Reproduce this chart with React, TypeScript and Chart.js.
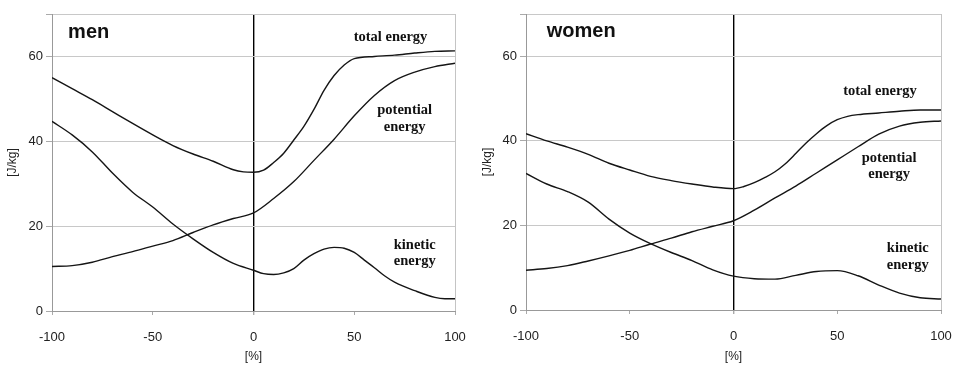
import React, { useEffect, useRef } from 'react';
import { Chart, registerables } from 'chart.js';

Chart.register(...registerables);

// ---------- data: men ----------
const MEN_TOTAL_X = [-100, -90, -80, -70, -60, -50, -40, -30, -20, -10, -5, 0, 5, 10, 15, 20, 25, 30, 35, 40, 45, 50, 60, 70, 80, 90, 100];
const MEN_TOTAL_Y = [55, 52.4, 49.8, 47, 44.2, 41.5, 39, 37, 35.3, 33.3, 32.8, 32.7, 33.2, 35, 37.2, 40.3, 43.5, 47.5, 52, 55.5, 58, 59.5, 60, 60.3, 60.8, 61.2, 61.3];

const MEN_POT_X = [-100, -90, -80, -70, -60, -50, -40, -30, -20, -10, 0, 10, 20, 30, 40, 50, 60, 70, 80, 90, 100];
const MEN_POT_Y = [10.5, 10.7, 11.5, 12.8, 14, 15.3, 16.6, 18.5, 20.3, 21.8, 23.1, 26.5, 30.5, 35.5, 40.5, 46, 50.8, 54.3, 56.3, 57.6, 58.4];

const MEN_KIN_X = [-100, -90, -80, -70, -60, -50, -40, -30, -20, -10, 0, 5, 10, 15, 20, 25, 30, 35, 40, 45, 50, 55, 60, 65, 70, 80, 90, 95, 100];
const MEN_KIN_Y = [44.7, 41.5, 37.5, 32.5, 28, 24.5, 20.5, 17, 13.8, 11.2, 9.6, 8.8, 8.6, 9, 10, 12, 13.5, 14.6, 15, 14.8, 13.8, 12, 10.2, 8.3, 6.8, 4.8, 3.2, 2.9, 2.9];

// ---------- data: women ----------
const WOMEN_TOTAL_X = [-100, -90, -80, -70, -60, -50, -40, -30, -20, -10, 0, 5, 10, 15, 20, 25, 30, 35, 40, 45, 50, 55, 60, 70, 80, 90, 100];
const WOMEN_TOTAL_Y = [41.7, 40, 38.5, 36.8, 34.7, 33.1, 31.6, 30.6, 29.8, 29.1, 28.7, 29.2, 30.1, 31.3, 32.7, 34.6, 37, 39.5, 41.7, 43.6, 45, 45.8, 46.2, 46.6, 47, 47.3, 47.3];

const WOMEN_POT_X = [-100, -90, -80, -70, -60, -50, -40, -30, -20, -10, 0, 10, 20, 30, 40, 50, 60, 70, 80, 90, 100];
const WOMEN_POT_Y = [9.4, 9.8, 10.5, 11.6, 12.8, 14.1, 15.6, 17, 18.5, 19.8, 21.1, 23.6, 26.5, 29.3, 32.4, 35.5, 38.6, 41.6, 43.5, 44.4, 44.7];

const WOMEN_KIN_X = [-100, -90, -80, -70, -60, -50, -40, -30, -20, -10, 0, 10, 20, 30, 40, 50, 60, 70, 80, 90, 100];
const WOMEN_KIN_Y = [32.3, 29.8, 28, 25.5, 21.5, 18.2, 15.7, 13.6, 11.7, 9.5, 8.0, 7.4, 7.3, 8.2, 9.1, 9.3, 8.1, 5.9, 4.0, 2.9, 2.6];

// ---------- axes ----------
const X_MIN = -100;
const X_MAX = 100;
const X_STEP = 50;
const Y_MIN = 0;
const Y_MAX = 70;
const Y_STEP = 20;
const X_TITLE = '[%]';
const Y_TITLE = '[J/kg]';

type Label = { lines: string[]; x: number; y: number };

const MEN_LABELS: Label[] = [
  { lines: ['total energy'], x: 68, y: 64.5 },
  { lines: ['potential', 'energy'], x: 75, y: 47.3 },
  { lines: ['kinetic', 'energy'], x: 80, y: 15.5 },
];
const WOMEN_LABELS: Label[] = [
  { lines: ['total energy'], x: 70.6, y: 51.8 },
  { lines: ['potential', 'energy'], x: 75, y: 36 },
  { lines: ['kinetic', 'energy'], x: 84, y: 14.5 },
];

const SANS = '"Liberation Sans", Arial, sans-serif';
const SERIF = '"Liberation Serif", "Times New Roman", serif';

function toPoints(xs: number[], ys: number[]) {
  return xs.map((x, i) => ({ x, y: ys[i] }));
}

type PanelProps = {
  title: string;
  series: { label: string; xs: number[]; ys: number[] }[];
  labels: Label[];
  width: number;
  height: number;
  yAxisWidth: number;
  xAxisHeight: number;
  padTop: number;
  padRight: number;
  yTitlePad: number;
  titleAt: { x: number; y: number };
};

function Panel(props: PanelProps) {
  const ref = useRef<HTMLCanvasElement | null>(null);
  useEffect(() => {
    const canvas = ref.current;
    if (!canvas) return;
    const textPlugin = {
      id: 'texts',
      afterDraw(chart: any) {
        const ctx = chart.ctx;
        const xs = chart.scales.x;
        const ys = chart.scales.y;
        ctx.save();
        ctx.fillStyle = '#111';
        ctx.textBaseline = 'middle';
        ctx.textAlign = 'left';
        ctx.font = `bold 20px ${SANS}`;
        ctx.fillText(props.title, xs.getPixelForValue(props.titleAt.x), ys.getPixelForValue(props.titleAt.y));
        ctx.font = `bold 14.5px ${SERIF}`;
        ctx.textAlign = 'center';
        props.labels.forEach((l) => {
          const px = xs.getPixelForValue(l.x);
          const py = ys.getPixelForValue(l.y);
          l.lines.forEach((t, i) => ctx.fillText(t, px, py + i * 16.5));
        });
        ctx.restore();
      },
    };
    const chart = new Chart(canvas, {
      type: 'line',
      data: {
        datasets: props.series.map((s) => ({
          label: s.label,
          data: toPoints(s.xs, s.ys),
          borderColor: '#151515',
          borderWidth: 1.4,
          pointRadius: 0,
          fill: false,
          cubicInterpolationMode: 'monotone' as const,
        })),
      },
      options: {
        responsive: false,
        animation: false,
        parsing: false as any,
        layout: { padding: { top: props.padTop, right: props.padRight, left: 0, bottom: 0 } },
        plugins: { legend: { display: false }, tooltip: { enabled: false } },
        scales: {
          x: {
            type: 'linear',
            min: X_MIN,
            max: X_MAX,
            afterFit: (s: any) => {
              s.height = props.xAxisHeight;
              s.paddingLeft = 0;
              s.paddingRight = 0;
            },
            ticks: { stepSize: X_STEP, padding: 15, color: '#222', font: { family: SANS, size: 13 } },
            grid: {
              color: (c: any) =>
                c.tick && c.tick.value === 0 ? '#000' : c.tick && c.tick.value === X_MAX ? '#c4c4c4' : 'rgba(0,0,0,0)',
              lineWidth: (c: any) => (c.tick && c.tick.value === 0 ? 1.4 : 1),
              tickLength: 4,
              tickColor: '#aaa',
            },
            border: { color: '#999' },
            title: {
              display: true,
              text: X_TITLE,
              color: '#222',
              font: { family: SANS, size: 12 },
              padding: { top: 0, bottom: 1 },
            },
          },
          y: {
            type: 'linear',
            min: Y_MIN,
            max: Y_MAX,
            afterFit: (s: any) => {
              s.width = props.yAxisWidth;
            },
            ticks: {
              stepSize: Y_STEP,
              padding: 3,
              color: '#222',
              font: { family: SANS, size: 13 },
              callback: (v: any) => (v === Y_MAX ? '' : String(v)),
            },
            grid: { color: '#c8c8c8', tickLength: 6, tickColor: '#aaa' },
            border: { color: '#999' },
            title: {
              display: true,
              text: Y_TITLE,
              color: '#222',
              font: { family: SANS, size: 12 },
              padding: { top: props.yTitlePad, bottom: 0 },
            },
          },
        },
      },
      plugins: [textPlugin],
    } as any);
    return () => chart.destroy();
  }, []);
  return <canvas ref={ref} width={props.width} height={props.height} style={{ display: 'block', width: props.width, height: props.height }} />;
}

export default function App() {
  return (
    <div style={{ position: 'absolute', left: 0, top: 0, width: 953, height: 365, background: '#fff' }}>
      <div style={{ position: 'absolute', left: 0, top: 0 }}>
        <Panel
          title="men"
          series={[
            { label: 'total energy', xs: MEN_TOTAL_X, ys: MEN_TOTAL_Y },
            { label: 'potential energy', xs: MEN_POT_X, ys: MEN_POT_Y },
            { label: 'kinetic energy', xs: MEN_KIN_X, ys: MEN_KIN_Y },
          ]}
          labels={MEN_LABELS}
          width={470}
          height={365}
          yAxisWidth={52}
          xAxisHeight={54}
          padTop={14}
          padRight={15}
          yTitlePad={5}
          titleAt={{ x: -92, y: 65.6 }}
        />
      </div>
      <div style={{ position: 'absolute', left: 470, top: 0 }}>
        <Panel
          title="women"
          series={[
            { label: 'total energy', xs: WOMEN_TOTAL_X, ys: WOMEN_TOTAL_Y },
            { label: 'potential energy', xs: WOMEN_POT_X, ys: WOMEN_POT_Y },
            { label: 'kinetic energy', xs: WOMEN_KIN_X, ys: WOMEN_KIN_Y },
          ]}
          labels={WOMEN_LABELS}
          width={483}
          height={365}
          yAxisWidth={56}
          xAxisHeight={55}
          padTop={14}
          padRight={12}
          yTitlePad={10}
          titleAt={{ x: -90, y: 65.8 }}
        />
      </div>
    </div>
  );
}
